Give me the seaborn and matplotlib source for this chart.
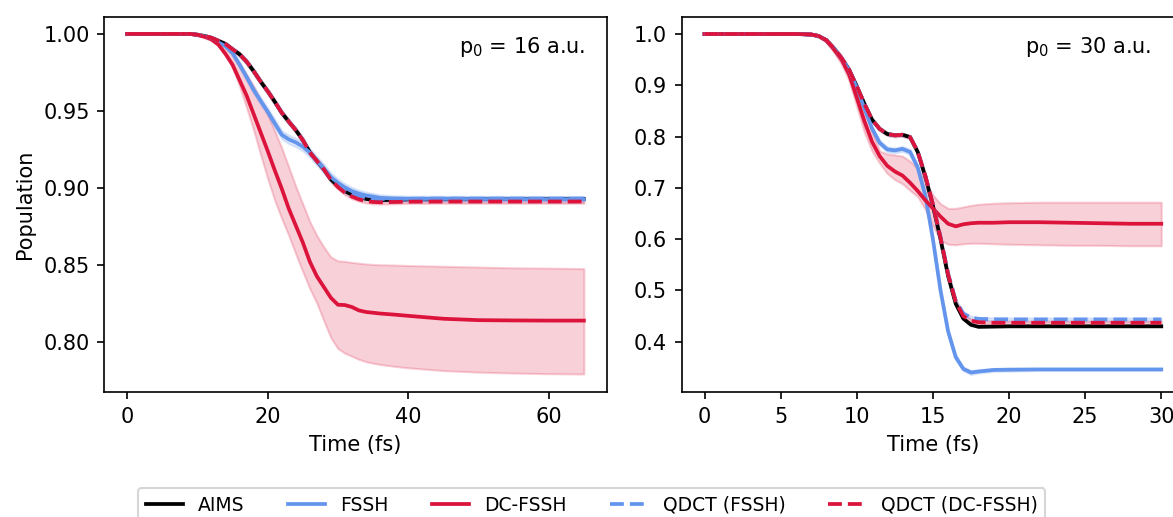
import numpy as np
import pandas as pd
import matplotlib
matplotlib.use("Agg")
import matplotlib.pyplot as plt
import seaborn as sns
from matplotlib.lines import Line2D

# ---------------- data: left panel (p0 = 16 a.u.) ----------------
t_left = [0, 5, 9, 10, 11, 12, 13, 14, 15, 16, 17, 18, 19, 20, 21, 22, 23, 24, 25, 26,
          27, 28, 29, 30, 31, 32, 33, 34, 35, 36, 38, 40, 45, 50, 55, 60, 65]
aims_l = [1.0, 1.0, 1.0, 0.9995, 0.9987, 0.9975, 0.9955, 0.9935, 0.990, 0.9868, 0.982,
          0.9758, 0.969, 0.9628, 0.956, 0.9488, 0.943, 0.9375, 0.931, 0.923, 0.9175,
          0.912, 0.9055, 0.9012, 0.8978, 0.8955, 0.894, 0.8928, 0.8922, 0.892, 0.8922,
          0.8925, 0.8926, 0.8926, 0.8927, 0.8927, 0.8927]
fssh_l = [1.0, 1.0, 1.0, 0.9994, 0.9985, 0.997, 0.9945, 0.992, 0.9875, 0.980, 0.972,
          0.9636, 0.9565, 0.9495, 0.942, 0.9345, 0.9315, 0.9295, 0.9268, 0.9228, 0.9175,
          0.9125, 0.907, 0.9032, 0.9002, 0.8978, 0.8962, 0.895, 0.8943, 0.8935, 0.893,
          0.8928, 0.8928, 0.8927, 0.8927, 0.8926, 0.8926]
fssh_err_l = [0, 0, 0, 0.0003, 0.0005, 0.0008, 0.001, 0.0012, 0.0015, 0.0018, 0.002,
              0.0022, 0.0024, 0.0025, 0.0026, 0.0027, 0.0028, 0.0028, 0.0028, 0.0028,
              0.0028, 0.0028, 0.0027, 0.0026, 0.0025, 0.0024, 0.0023, 0.0022, 0.0021,
              0.002, 0.0019, 0.0018, 0.0018, 0.0018, 0.0018, 0.0018, 0.0018]
dc_l = [1.0, 1.0, 1.0, 0.9993, 0.9982, 0.9965, 0.993, 0.987, 0.980, 0.970, 0.960, 0.948,
        0.936, 0.924, 0.9115, 0.8995, 0.8865, 0.8755, 0.8645, 0.852, 0.8425, 0.8355,
        0.8285, 0.824, 0.8238, 0.8225, 0.8203, 0.8193, 0.8188, 0.8183, 0.8176, 0.8168,
        0.8149, 0.814, 0.8138, 0.8137, 0.8137]
dc_lo_l = [1.0, 1.0, 1.0, 0.999, 0.9975, 0.9955, 0.9925, 0.986, 0.978, 0.966, 0.952,
           0.9375, 0.9215, 0.906, 0.892, 0.880, 0.869, 0.857, 0.8455, 0.8345, 0.825,
           0.8135, 0.8025, 0.7955, 0.7925, 0.7905, 0.7885, 0.787, 0.786, 0.7852, 0.784,
           0.783, 0.7812, 0.7802, 0.7796, 0.7792, 0.779]
dc_hi_l = [1.0, 1.0, 1.0, 0.9997, 0.9992, 0.998, 0.9965, 0.993, 0.9875, 0.981, 0.9735,
           0.966, 0.957, 0.948, 0.937, 0.926, 0.9135, 0.901, 0.8895, 0.878, 0.869,
           0.8615, 0.855, 0.8525, 0.8522, 0.8515, 0.851, 0.8505, 0.8502, 0.850, 0.8498,
           0.8495, 0.849, 0.8485, 0.848, 0.8478, 0.8475]
qdct_f_l = [1.0, 1.0, 1.0, 0.9995, 0.9987, 0.9975, 0.9955, 0.9935, 0.990, 0.9868, 0.982,
            0.9758, 0.969, 0.9628, 0.956, 0.9488, 0.943, 0.9375, 0.931, 0.923, 0.9175,
            0.912, 0.9058, 0.9015, 0.898, 0.8958, 0.8943, 0.8932, 0.8928, 0.8927, 0.8928,
            0.8929, 0.893, 0.893, 0.893, 0.893, 0.893]
qdct_d_l = [1.0, 1.0, 1.0, 0.9995, 0.9987, 0.9975, 0.9955, 0.9935, 0.990, 0.9868, 0.982,
            0.9758, 0.969, 0.9628, 0.956, 0.9488, 0.943, 0.9375, 0.931, 0.923, 0.9175,
            0.912, 0.9052, 0.9005, 0.8968, 0.8943, 0.8925, 0.8914, 0.8908, 0.8906, 0.8908,
            0.891, 0.8911, 0.8911, 0.8911, 0.8911, 0.8911]
qdct_err_l = [0, 0, 0, 0.0003, 0.0005, 0.0007, 0.0009, 0.001, 0.0012, 0.0013, 0.0014,
              0.0015, 0.0015, 0.0015, 0.0015, 0.0015, 0.0015, 0.0015, 0.0015, 0.0015,
              0.0015, 0.0015, 0.0015, 0.0015, 0.0014, 0.0014, 0.0013, 0.0013, 0.0012,
              0.0012, 0.0012, 0.0012, 0.0012, 0.0012, 0.0012, 0.0012, 0.0012]

# ---------------- data: right panel (p0 = 30 a.u.) ----------------
t_right = [0, 5, 6, 7, 7.5, 8, 8.5, 9, 9.5, 10, 10.5, 11, 11.5, 12, 12.5, 13, 13.5, 14,
           14.5, 15, 15.5, 16, 16.5, 17, 17.5, 18, 19, 20, 22, 24, 26, 28, 30]
aims_r = [1.0, 1.0, 1.0, 0.999, 0.996, 0.988, 0.972, 0.953, 0.930, 0.898, 0.864, 0.833,
          0.815, 0.805, 0.8025, 0.8035, 0.799, 0.770, 0.722, 0.665, 0.600, 0.528, 0.474,
          0.445, 0.433, 0.429, 0.4295, 0.430, 0.430, 0.430, 0.430, 0.430, 0.430]
fssh_r = [1.0, 1.0, 1.0, 0.999, 0.996, 0.988, 0.972, 0.953, 0.929, 0.895, 0.855, 0.816,
          0.788, 0.775, 0.773, 0.776, 0.770, 0.740, 0.685, 0.600, 0.500, 0.420, 0.370,
          0.347, 0.340, 0.342, 0.345, 0.3455, 0.346, 0.346, 0.346, 0.346, 0.346]
fssh_err_r = [0, 0, 0, 0.001, 0.001, 0.002, 0.002, 0.003, 0.003, 0.004, 0.004, 0.004,
              0.005, 0.005, 0.005, 0.005, 0.005, 0.005, 0.005, 0.005, 0.005, 0.005, 0.005,
              0.004, 0.004, 0.003, 0.003, 0.003, 0.002, 0.002, 0.002, 0.002, 0.002]
dc_r = [1.0, 1.0, 1.0, 0.999, 0.996, 0.987, 0.970, 0.950, 0.921, 0.876, 0.830, 0.790,
        0.762, 0.743, 0.732, 0.724, 0.710, 0.694, 0.676, 0.660, 0.644, 0.630, 0.625,
        0.629, 0.631, 0.632, 0.632, 0.633, 0.633, 0.632, 0.631, 0.630, 0.630]
dc_hi_r = [1.0, 1.0, 1.0, 1.0, 0.997, 0.990, 0.976, 0.958, 0.932, 0.893, 0.850, 0.810,
           0.772, 0.766, 0.764, 0.762, 0.752, 0.738, 0.714, 0.686, 0.669, 0.660, 0.660,
           0.663, 0.666, 0.668, 0.670, 0.671, 0.672, 0.672, 0.672, 0.672, 0.672]
dc_lo_r = [1.0, 1.0, 1.0, 0.998, 0.994, 0.984, 0.964, 0.941, 0.908, 0.858, 0.808, 0.772,
           0.748, 0.728, 0.716, 0.708, 0.695, 0.683, 0.658, 0.626, 0.598, 0.590, 0.589,
           0.591, 0.592, 0.592, 0.591, 0.590, 0.589, 0.588, 0.588, 0.587, 0.587]
qdct_f_r = [1.0, 1.0, 1.0, 0.999, 0.996, 0.988, 0.972, 0.953, 0.930, 0.898, 0.864, 0.833,
            0.815, 0.805, 0.8025, 0.8035, 0.799, 0.771, 0.724, 0.668, 0.604, 0.533, 0.480,
            0.455, 0.447, 0.4445, 0.4437, 0.4435, 0.4435, 0.4435, 0.4435, 0.4435, 0.4435]
qdct_d_r = [1.0, 1.0, 1.0, 0.999, 0.996, 0.988, 0.972, 0.953, 0.930, 0.898, 0.864, 0.833,
            0.815, 0.805, 0.8025, 0.8035, 0.799, 0.771, 0.724, 0.668, 0.603, 0.531, 0.478,
            0.450, 0.441, 0.438, 0.437, 0.437, 0.437, 0.437, 0.437, 0.437, 0.437]
qdct_err_r = [0, 0, 0, 0.001, 0.001, 0.002, 0.002, 0.002, 0.003, 0.003, 0.003, 0.003,
              0.003, 0.003, 0.003, 0.003, 0.003, 0.003, 0.003, 0.003, 0.003, 0.003, 0.003,
              0.003, 0.003, 0.003, 0.003, 0.003, 0.003, 0.003, 0.003, 0.003, 0.003]

labels = ["AIMS", "FSSH", "DC-FSSH", "QDCT (FSSH)", "QDCT (DC-FSSH)"]
panel_titles = [r"p$_0$ = 16 a.u.", r"p$_0$ = 30 a.u."]

C_AIMS = "black"
C_FSSH = "#6495ED"
C_DC = "#DC143C"
LW = 1.8

W, H, DPI = 1173, 517, 150
fig = plt.figure(figsize=(W / DPI, H / DPI), dpi=DPI)
plt.rcParams["font.family"] = ["DejaVu Sans"]

axL = fig.add_axes([104.3 / W, 1 - 392.0 / H, 502.4 / W, 375.3 / H])
axR = fig.add_axes([681.7 / W, 1 - 392.0 / H, 502.4 / W, 375.3 / H])


def draw(ax, t, aims, fssh, fssh_err, dc, dc_lo, dc_hi, qf, qd, qerr):
    t = np.asarray(t, float)
    fssh = np.asarray(fssh); fssh_err = np.asarray(fssh_err)
    qf = np.asarray(qf); qd = np.asarray(qd); qerr = np.asarray(qerr)
    # uncertainty bands
    ax.fill_between(t, fssh - fssh_err, fssh + fssh_err, color=C_FSSH, alpha=0.2)
    ax.fill_between(t, dc_lo, dc_hi, color=C_DC, alpha=0.2)
    ax.fill_between(t, qf - qerr, qf + qerr, color=C_FSSH, alpha=0.2)
    ax.fill_between(t, qd - qerr, qd + qerr, color=C_DC, alpha=0.2)
    # lines
    sns.lineplot(x=t, y=aims, ax=ax, color=C_AIMS, lw=LW, sort=False, estimator=None)
    sns.lineplot(x=t, y=fssh, ax=ax, color=C_FSSH, lw=LW, sort=False, estimator=None)
    sns.lineplot(x=t, y=dc, ax=ax, color=C_DC, lw=LW, sort=False, estimator=None)
    sns.lineplot(x=t, y=qf, ax=ax, color=C_FSSH, lw=LW, linestyle="--", sort=False, estimator=None)
    sns.lineplot(x=t, y=qd, ax=ax, color=C_DC, lw=LW, linestyle="--", sort=False, estimator=None)
    if ax.get_legend() is not None:
        ax.get_legend().remove()


draw(axL, t_left, aims_l, fssh_l, fssh_err_l, dc_l, dc_lo_l, dc_hi_l, qdct_f_l, qdct_d_l, qdct_err_l)
draw(axR, t_right, aims_r, fssh_r, fssh_err_r, dc_r, dc_lo_r, dc_hi_r, qdct_f_r, qdct_d_r, qdct_err_r)

axL.set_xlim(-3.25, 68.25)
axL.set_ylim(0.7673, 1.0112)
axL.set_xticks([0, 20, 40, 60])
axL.set_yticks([0.80, 0.85, 0.90, 0.95, 1.00])
axL.set_yticklabels(["0.80", "0.85", "0.90", "0.95", "1.00"])
axL.set_xlabel("Time (fs)")
axL.set_ylabel("Population")
axL.text(0.957, 0.918, panel_titles[0], transform=axL.transAxes, ha="right", va="center", fontsize=10)

axR.set_xlim(-1.5, 31.5)
axR.set_ylim(0.302, 1.0337)
axR.set_xticks([0, 5, 10, 15, 20, 25, 30])
axR.set_yticks([0.4, 0.5, 0.6, 0.7, 0.8, 0.9, 1.0])
axR.set_xlabel("Time (fs)")
axR.set_ylabel("")
axR.text(0.9355, 0.918, panel_titles[1], transform=axR.transAxes, ha="right", va="center", fontsize=10)

handles = [
    Line2D([], [], color=C_AIMS, lw=LW),
    Line2D([], [], color=C_FSSH, lw=LW),
    Line2D([], [], color=C_DC, lw=LW),
    Line2D([], [], color=C_FSSH, lw=LW, linestyle="--"),
    Line2D([], [], color=C_DC, lw=LW, linestyle="--"),
]
fig.legend(handles, labels, loc="upper left", bbox_to_anchor=(138.3 / W, 1 - 488.3 / H),
           ncol=5, borderaxespad=0, frameon=True, fontsize=9, columnspacing=2.3)

fig.savefig("out.png", dpi=DPI)
